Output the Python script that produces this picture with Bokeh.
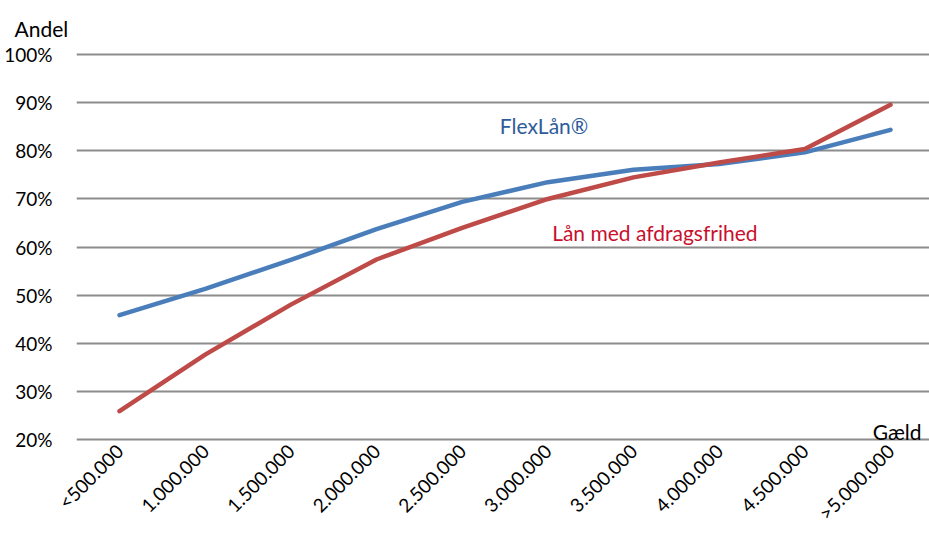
from bokeh.plotting import figure
from bokeh.models import Range1d, Label, FixedTicker, Title
from bokeh.embed import file_html
from bokeh.resources import INLINE
import math

# Debt brackets (DKK) and the share of loans per bracket
categories = ["<500.000", "1.000.000", "1.500.000", "2.000.000", "2.500.000",
              "3.000.000", "3.500.000", "4.000.000", "4.500.000", ">5.000.000"]
flexlaan = [45.8, 51.3, 57.3, 63.7, 69.4, 73.5, 76.1, 77.3, 79.7, 84.4]
afdragsfri = [25.8, 37.6, 48.0, 57.4, 64.0, 70.0, 74.5, 77.6, 80.4, 89.6]
y_ticks = [20, 30, 40, 50, 60, 70, 80, 90, 100]

FONT = "Lato"
xs = list(range(len(categories)))

p = figure(width=929, height=535, output_backend="svg", toolbar_location=None,
           x_range=Range1d(-0.502, 9.455), y_range=Range1d(19.5, 100.5),
           min_border_left=76, min_border_right=0, min_border_top=52,
           min_border_bottom=94)
p.outline_line_color = None
p.background_fill_color = "white"
p.border_fill_color = "white"

# "Andel" caption above the value axis
p.add_layout(Title(text="Andel", align="left", offset=-62, standoff=20,
                   vertical_align="top",
                   text_font=FONT, text_font_size="21px",
                   text_font_style="normal", text_color="#000000"), "above")

p.line(xs, flexlaan, line_color="#4A7EBB", line_width=4.5, line_cap="round", line_join="round")
p.line(xs, afdragsfri, line_color="#BE4B48", line_width=4.5, line_cap="round", line_join="round")

# y axis: percentage ticks, no axis line
p.yaxis.ticker = FixedTicker(ticks=y_ticks)
p.yaxis.major_label_overrides = {t: f"{t}%" for t in y_ticks}
p.yaxis.axis_line_color = None
p.yaxis.major_tick_line_color = None
p.yaxis.minor_tick_line_color = None
p.yaxis.major_label_standoff = 18
p.yaxis.major_label_text_font = FONT
p.yaxis.major_label_text_font_size = "19px"
p.yaxis.major_label_text_color = "#000000"

# x axis: debt brackets, rotated labels
p.xaxis.ticker = FixedTicker(ticks=xs)
p.xaxis.major_label_overrides = {i: c for i, c in enumerate(categories)}
p.xaxis.major_label_orientation = math.pi / 4
p.xaxis.axis_line_color = None
p.xaxis.major_tick_line_color = None
p.xaxis.minor_tick_line_color = None
p.xaxis.major_tick_out = 0
p.xaxis.major_tick_in = 0
p.xaxis.major_label_standoff = 6
p.xaxis.major_label_text_font = FONT
p.xaxis.major_label_text_font_size = "19px"
p.xaxis.major_label_text_color = "#000000"

p.xgrid.grid_line_color = None
p.ygrid.grid_line_color = "#8C8C8C"
p.ygrid.grid_line_width = 2

p.add_layout(Label(x=9.362, y=21.5, text="Gæld", text_font=FONT,
                   text_font_size="21px", text_align="right",
                   text_color="#000000", text_baseline="alphabetic"))

# series names
p.add_layout(Label(x=4.44, y=85.2, text="FlexLån®", text_font=FONT,
                   text_font_size="21px", text_color="#2E5B9A",
                   text_baseline="middle"))
p.add_layout(Label(x=5.05, y=63.0, text="Lån med afdragsfrihed", text_font=FONT,
                   text_font_size="21px", text_color="#C8102E",
                   text_baseline="middle"))

open("out.html", "w").write(file_html(p, INLINE))
